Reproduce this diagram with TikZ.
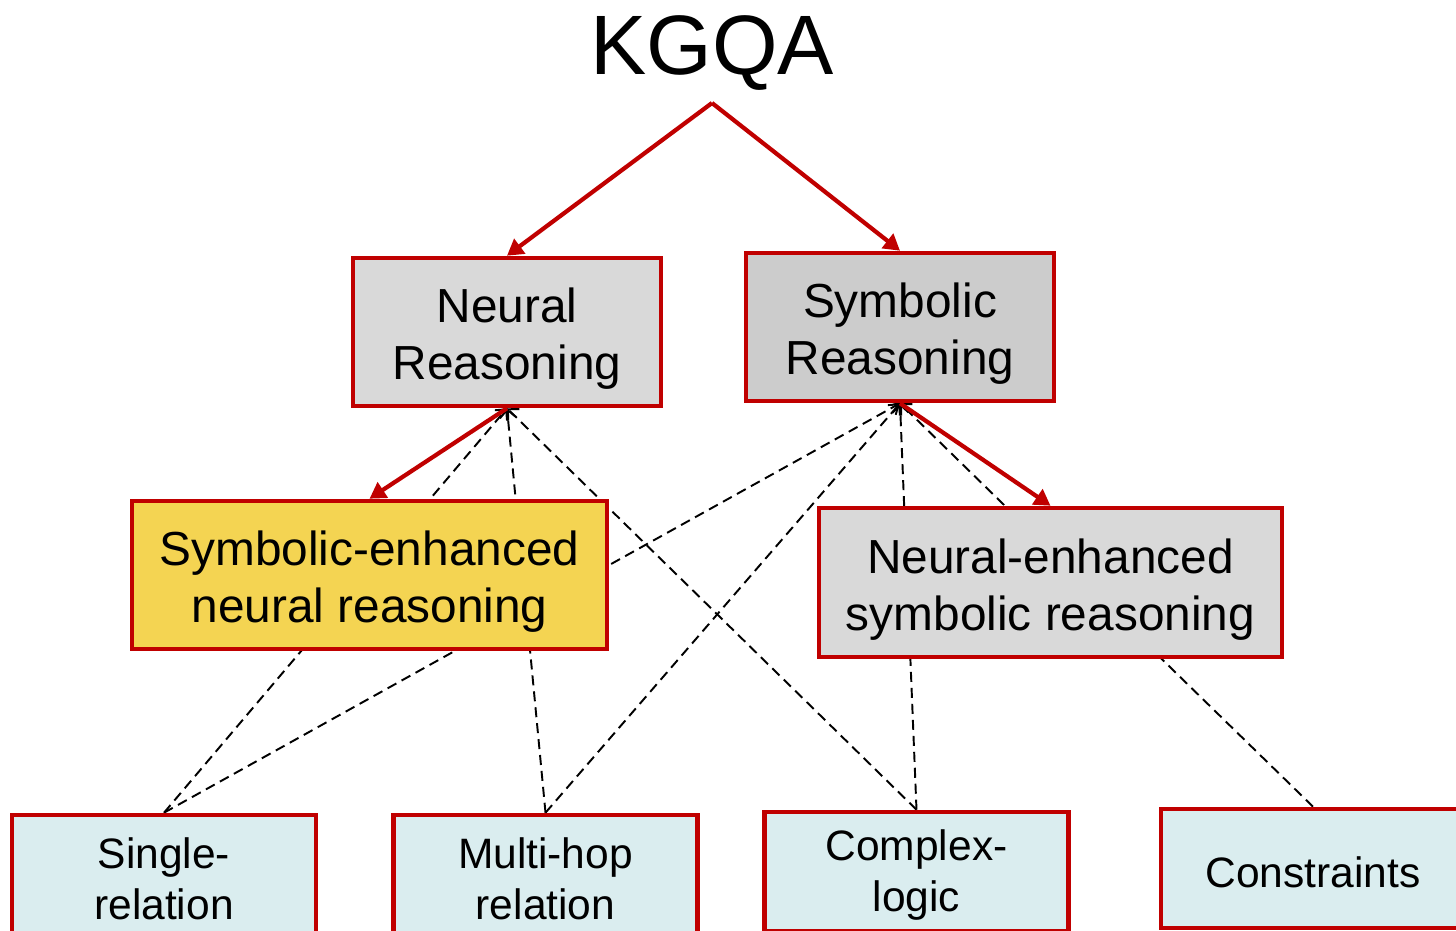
\documentclass[tikz,border=0pt]{standalone}
\usepackage{fontspec}
\setmainfont{Liberation Sans}
\usepackage{tikz}
\usetikzlibrary{arrows.meta, backgrounds}
\usepackage{xcolor}

\definecolor{kgred}{HTML}{C00000}
\definecolor{neuralgray}{HTML}{D9D9D9}
\definecolor{symbgray}{HTML}{CCCCCC}
\definecolor{enhyellow}{HTML}{F4D452}
\definecolor{taskblue}{HTML}{DAEDEF}

\newcommand{\methodstrut}{\rule{0pt}{27.5pt}}
\newcommand{\taskstrut}{\rule{0pt}{22pt}}

\begin{document}
\begin{tikzpicture}[
        methodbox/.style={draw=kgred, line width=2.6pt, inner sep=0pt, align=center,
            minimum width=6.16cm, minimum height=2.96cm,
            font=\fontsize{27.2}{32.4}\selectfont},
        taskbox/.style={draw=kgred, line width=2.6pt, inner sep=0pt, align=center,
            fill=taskblue, minimum width=6.08cm, minimum height=2.38cm,
            font=\fontsize{24.2}{29}\selectfont},
        treearrow/.style={kgred, line width=2.4pt, -{Triangle[length=3.2mm, width=3.6mm]}},
        linkline/.style={black, line width=1.1pt, dash pattern=on 5.7pt off 3.4pt,
            -{Straight Barb[length=1.6mm, width=3.2mm]}}
    ]

                \useasboundingbox (0,0) rectangle (29.12,-18.62);

                \node[anchor=base, inner sep=0pt, font=\fontsize{48}{50}\selectfont] (kgqa) at (14.24,-1.5) {KGQA};
                \coordinate (split) at (14.24,-2.06);

                \node[methodbox, fill=neuralgray] (neural) at (10.14,-6.64) {\methodstrut Neural\\Reasoning};
                \node[methodbox, fill=symbgray] (symbolic) at (18.0,-6.54) {\methodstrut Symbolic\\Reasoning};

                \node[methodbox, fill=enhyellow, minimum width=9.5cm] (symenh) at (7.39,-11.5) {\methodstrut Symbolic-enhanced\\neural reasoning};
                \node[methodbox, fill=neuralgray, minimum width=9.26cm, minimum height=2.98cm] (neurenh) at (21.01,-11.65) {\methodstrut Neural-enhanced\\symbolic reasoning};

                \node[taskbox] (single) at (3.28,-17.49) {\taskstrut Single-\\relation};
                \node[taskbox] (multihop) at (10.91,-17.49) {\taskstrut Multi-hop\\relation};
                \node[taskbox] (complex) at (18.33,-17.43) {\taskstrut Complex-\\logic};
                \node[taskbox] (constraints) at (26.26,-17.37) {\taskstrut Constraints};

                \begin{scope}[on background layer]
                    \draw [linkline] (single.north) -- (neural.south);
                    \draw [linkline] (single.north) -- (symbolic.south);
                    \draw [linkline] (multihop.north) -- (neural.south);
                    \draw [linkline] (multihop.north) -- (symbolic.south);
                    \draw [linkline] (complex.north) -- (neural.south);
                    \draw [linkline] (complex.north) -- (symbolic.south);
                    \draw [linkline] (constraints.north) -- (symbolic.south);
                \end{scope}

                \draw [treearrow] (split) -- (neural.north);
                \draw [treearrow] (split) -- (symbolic.north);
                \draw [treearrow] (neural.south) -- (symenh.north);
                \draw [treearrow] (symbolic.south) -- (neurenh.north);

\end{tikzpicture}
\end{document}
